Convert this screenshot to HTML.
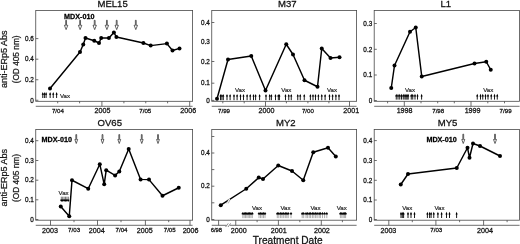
<!DOCTYPE html>
<html><head><meta charset="utf-8"><title>anti-ERp5 antibody responses</title>
<style>
html,body{margin:0;padding:0;background:#fff;}
body{width:520px;height:244px;overflow:hidden;}
svg{display:block;font-family:"Liberation Sans", sans-serif;filter:blur(0.35px);}
</style></head>
<body>
<svg width="520" height="244" viewBox="0 0 520 244">
<rect width="520" height="244" fill="#fff"/>
<rect x="35.75" y="10.4" width="156.85" height="90.90" fill="none" stroke="#484848" stroke-width="0.8"/>
<rect x="35.75" y="129.4" width="156.85" height="90.80" fill="none" stroke="#484848" stroke-width="0.8"/>
<line x1="35.75" y1="106.3" x2="192.6" y2="106.3" stroke="#484848" stroke-width="0.8" />
<line x1="35.75" y1="225.3" x2="192.6" y2="225.3" stroke="#484848" stroke-width="0.8" />
<rect x="211.75" y="10.4" width="144.85" height="90.90" fill="none" stroke="#484848" stroke-width="0.8"/>
<rect x="211.75" y="129.4" width="144.85" height="90.80" fill="none" stroke="#484848" stroke-width="0.8"/>
<line x1="211.75" y1="106.3" x2="356.6" y2="106.3" stroke="#484848" stroke-width="0.8" />
<line x1="211.75" y1="225.3" x2="356.6" y2="225.3" stroke="#484848" stroke-width="0.8" />
<rect x="374.2" y="10.4" width="145.40" height="90.90" fill="none" stroke="#484848" stroke-width="0.8"/>
<rect x="374.2" y="129.4" width="145.40" height="90.80" fill="none" stroke="#484848" stroke-width="0.8"/>
<line x1="374.2" y1="106.3" x2="519.6" y2="106.3" stroke="#484848" stroke-width="0.8" />
<line x1="374.2" y1="225.3" x2="519.6" y2="225.3" stroke="#484848" stroke-width="0.8" />
<text x="112.6" y="6.8" font-size="9.55" text-anchor="middle" font-weight="normal" fill="#111" stroke="#111" stroke-width="0.26" >MEL15</text>
<text x="287.3" y="6.8" font-size="9.55" text-anchor="middle" font-weight="normal" fill="#111" stroke="#111" stroke-width="0.26" >M37</text>
<text x="445.8" y="6.8" font-size="9.55" text-anchor="middle" font-weight="normal" fill="#111" stroke="#111" stroke-width="0.26" >L1</text>
<text x="109.8" y="125.8" font-size="9.55" text-anchor="middle" font-weight="normal" fill="#111" stroke="#111" stroke-width="0.26" >OV65</text>
<text x="285.8" y="125.8" font-size="9.55" text-anchor="middle" font-weight="normal" fill="#111" stroke="#111" stroke-width="0.26" >MY2</text>
<text x="447.6" y="125.8" font-size="9.55" text-anchor="middle" font-weight="normal" fill="#111" stroke="#111" stroke-width="0.26" >MY5</text>
<text transform="translate(7.3,59.25) rotate(-90)" font-size="8.9" textLength="57.6" lengthAdjust="spacingAndGlyphs" text-anchor="middle" fill="#1a1a1a" stroke="#1a1a1a" stroke-width="0.26">anti-ERp5 Abs</text>
<text transform="translate(18.7,59.4) rotate(-90)" font-size="8.3" text-anchor="middle" fill="#1a1a1a" stroke="#1a1a1a" stroke-width="0.26">(OD 405 nm)</text>
<text transform="translate(7.3,177.75) rotate(-90)" font-size="8.9" textLength="57.6" lengthAdjust="spacingAndGlyphs" text-anchor="middle" fill="#1a1a1a" stroke="#1a1a1a" stroke-width="0.26">anti-ERp5 Abs</text>
<text transform="translate(18.7,178.0) rotate(-90)" font-size="8.3" text-anchor="middle" fill="#1a1a1a" stroke="#1a1a1a" stroke-width="0.26">(OD 405 nm)</text>
<text x="287.7" y="244.0" font-size="10.1" text-anchor="middle" font-weight="normal" fill="#111" stroke="#111" stroke-width="0.26" >Treatment Date</text>
<line x1="35.75" y1="100.25" x2="38.35" y2="100.25" stroke="#484848" stroke-width="0.8" />
<text x="33.75" y="102.5" font-size="6.35" text-anchor="end" font-weight="normal" fill="#111" stroke="#111" stroke-width="0.26" >0</text>
<line x1="35.75" y1="79.75" x2="38.35" y2="79.75" stroke="#484848" stroke-width="0.8" />
<text x="33.75" y="82.0" font-size="6.35" text-anchor="end" font-weight="normal" fill="#111" stroke="#111" stroke-width="0.26" >0.2</text>
<line x1="35.75" y1="59.2" x2="38.35" y2="59.2" stroke="#484848" stroke-width="0.8" />
<text x="33.75" y="61.45" font-size="6.35" text-anchor="end" font-weight="normal" fill="#111" stroke="#111" stroke-width="0.26" >0.4</text>
<line x1="35.75" y1="38.6" x2="38.35" y2="38.6" stroke="#484848" stroke-width="0.8" />
<text x="33.75" y="40.85" font-size="6.35" text-anchor="end" font-weight="normal" fill="#111" stroke="#111" stroke-width="0.26" >0.6</text>
<line x1="57.7" y1="101.3" x2="57.7" y2="103.3" stroke="#484848" stroke-width="0.8" />
<text x="57.9" y="112.5" font-size="6.15" text-anchor="middle" font-weight="normal" fill="#111" stroke="#111" stroke-width="0.26" >7/04</text>
<line x1="79.6" y1="101.3" x2="79.6" y2="103.3" stroke="#484848" stroke-width="0.8" />
<line x1="101.9" y1="101.3" x2="101.9" y2="106.3" stroke="#484848" stroke-width="0.8" />
<text x="102.5" y="113.0" font-size="7.15" text-anchor="middle" font-weight="normal" fill="#111" stroke="#111" stroke-width="0.26" >2005</text>
<line x1="123.9" y1="101.3" x2="123.9" y2="103.3" stroke="#484848" stroke-width="0.8" />
<line x1="145.75" y1="101.3" x2="145.75" y2="103.3" stroke="#484848" stroke-width="0.8" />
<text x="145.3" y="112.5" font-size="6.15" text-anchor="middle" font-weight="normal" fill="#111" stroke="#111" stroke-width="0.26" >7/05</text>
<line x1="167.6" y1="101.3" x2="167.6" y2="103.3" stroke="#484848" stroke-width="0.8" />
<line x1="189.7" y1="101.3" x2="189.7" y2="106.3" stroke="#484848" stroke-width="0.8" />
<text x="188.3" y="113.0" font-size="7.15" text-anchor="middle" font-weight="normal" fill="#111" stroke="#111" stroke-width="0.26" >2006</text>
<polyline points="50,88.5 80,52 83.25,44.5 85.5,38 94.25,40.75 99,43 101.2,38 108.9,38 113.9,32.5 116.4,37 143.4,43 150.7,45.6 166.9,43.6 172.5,50.5 179.5,48.4" fill="none" stroke="#000" stroke-width="1.45" stroke-linejoin="round"/>
<circle cx="50" cy="88.5" r="2.0" fill="#000"/>
<circle cx="80" cy="52" r="2.0" fill="#000"/>
<circle cx="83.25" cy="44.5" r="2.0" fill="#000"/>
<circle cx="85.5" cy="38" r="2.0" fill="#000"/>
<circle cx="94.25" cy="40.75" r="2.0" fill="#000"/>
<circle cx="99" cy="43" r="2.0" fill="#000"/>
<circle cx="101.2" cy="38" r="2.0" fill="#000"/>
<circle cx="108.9" cy="38" r="2.0" fill="#000"/>
<circle cx="113.9" cy="32.5" r="2.0" fill="#000"/>
<circle cx="116.4" cy="37" r="2.0" fill="#000"/>
<circle cx="143.4" cy="43" r="2.0" fill="#000"/>
<circle cx="150.7" cy="45.6" r="2.0" fill="#000"/>
<circle cx="166.9" cy="43.6" r="2.0" fill="#000"/>
<circle cx="172.5" cy="50.5" r="2.0" fill="#000"/>
<circle cx="179.5" cy="48.4" r="2.0" fill="#000"/>
<path d="M65.67999999999999,20.3 L66.52,20.3 L66.52,25.3 L67.8,25.3 L66.1,29.6 L64.39999999999999,25.3 L65.67999999999999,25.3 Z" fill="#fff" stroke="#222" stroke-width="0.7" stroke-linejoin="miter"/>
<path d="M79.67999999999999,20.3 L80.52,20.3 L80.52,25.3 L81.8,25.3 L80.1,29.6 L78.39999999999999,25.3 L79.67999999999999,25.3 Z" fill="#fff" stroke="#222" stroke-width="0.7" stroke-linejoin="miter"/>
<path d="M94.28,20.3 L95.12,20.3 L95.12,25.3 L96.4,25.3 L94.7,29.6 L93.0,25.3 L94.28,25.3 Z" fill="#fff" stroke="#222" stroke-width="0.7" stroke-linejoin="miter"/>
<path d="M106.48,20.3 L107.32000000000001,20.3 L107.32000000000001,25.3 L108.60000000000001,25.3 L106.9,29.6 L105.2,25.3 L106.48,25.3 Z" fill="#fff" stroke="#222" stroke-width="0.7" stroke-linejoin="miter"/>
<path d="M116.28,20.3 L117.12,20.3 L117.12,25.3 L118.4,25.3 L116.7,29.6 L115.0,25.3 L116.28,25.3 Z" fill="#fff" stroke="#222" stroke-width="0.7" stroke-linejoin="miter"/>
<path d="M135.38000000000002,20.3 L136.22,20.3 L136.22,25.3 L137.5,25.3 L135.8,29.6 L134.10000000000002,25.3 L135.38000000000002,25.3 Z" fill="#fff" stroke="#222" stroke-width="0.7" stroke-linejoin="miter"/>
<text x="64.1" y="19.35" font-size="7.2" text-anchor="start" font-weight="bold" fill="#000" stroke="#000" stroke-width="0.26" >MDX-010</text>
<path d="M41.7,94.7 L42.75,92.1 L43.8,94.7 Z" fill="#000"/>
<line x1="42.75" y1="93.5" x2="42.75" y2="98.0" stroke="#000" stroke-width="0.9" />
<path d="M43.35,94.7 L44.4,92.1 L45.449999999999996,94.7 Z" fill="#000"/>
<line x1="44.4" y1="93.5" x2="44.4" y2="98.0" stroke="#000" stroke-width="0.9" />
<path d="M45.050000000000004,94.7 L46.1,92.1 L47.15,94.7 Z" fill="#000"/>
<line x1="46.1" y1="93.5" x2="46.1" y2="98.0" stroke="#000" stroke-width="0.9" />
<path d="M49.1,94.7 L50.15,92.1 L51.199999999999996,94.7 Z" fill="#000"/>
<line x1="50.15" y1="93.5" x2="50.15" y2="98.0" stroke="#000" stroke-width="0.9" />
<path d="M52.2,94.7 L53.25,92.1 L54.3,94.7 Z" fill="#000"/>
<line x1="53.25" y1="93.5" x2="53.25" y2="98.0" stroke="#000" stroke-width="0.9" />
<path d="M55.550000000000004,94.7 L56.6,92.1 L57.65,94.7 Z" fill="#000"/>
<line x1="56.6" y1="93.5" x2="56.6" y2="98.0" stroke="#000" stroke-width="0.9" />
<text x="60.0" y="97.8" font-size="6.1" text-anchor="start" font-weight="normal" fill="#222" stroke="#222" stroke-width="0.18" >Vax</text>
<line x1="211.75" y1="100.4" x2="214.35" y2="100.4" stroke="#484848" stroke-width="0.8" />
<text x="209.75" y="102.65" font-size="6.35" text-anchor="end" font-weight="normal" fill="#111" stroke="#111" stroke-width="0.26" >0</text>
<line x1="211.75" y1="83.2" x2="214.35" y2="83.2" stroke="#484848" stroke-width="0.8" />
<text x="209.75" y="85.45" font-size="6.35" text-anchor="end" font-weight="normal" fill="#111" stroke="#111" stroke-width="0.26" >0.1</text>
<line x1="211.75" y1="61.5" x2="214.35" y2="61.5" stroke="#484848" stroke-width="0.8" />
<text x="209.75" y="63.75" font-size="6.35" text-anchor="end" font-weight="normal" fill="#111" stroke="#111" stroke-width="0.26" >0.2</text>
<line x1="211.75" y1="22.5" x2="214.35" y2="22.5" stroke="#484848" stroke-width="0.8" />
<text x="209.75" y="24.75" font-size="6.35" text-anchor="end" font-weight="normal" fill="#111" stroke="#111" stroke-width="0.26" >0.4</text>
<text x="209.75" y="44.25" font-size="6.35" text-anchor="end" font-weight="normal" fill="#111" stroke="#111" stroke-width="0.26" >0.3</text>
<line x1="222.8" y1="101.3" x2="222.8" y2="103.3" stroke="#484848" stroke-width="0.8" />
<text x="224.0" y="112.5" font-size="6.15" text-anchor="middle" font-weight="normal" fill="#111" stroke="#111" stroke-width="0.26" >7/99</text>
<line x1="244.2" y1="101.3" x2="244.2" y2="103.3" stroke="#484848" stroke-width="0.8" />
<line x1="265.5" y1="101.3" x2="265.5" y2="106.3" stroke="#484848" stroke-width="0.8" />
<text x="266.5" y="113.0" font-size="7.15" text-anchor="middle" font-weight="normal" fill="#111" stroke="#111" stroke-width="0.26" >2000</text>
<line x1="286.4" y1="101.3" x2="286.4" y2="103.3" stroke="#484848" stroke-width="0.8" />
<line x1="307.9" y1="101.3" x2="307.9" y2="103.3" stroke="#484848" stroke-width="0.8" />
<text x="307.9" y="112.5" font-size="6.15" text-anchor="middle" font-weight="normal" fill="#111" stroke="#111" stroke-width="0.26" >7/00</text>
<line x1="328.9" y1="101.3" x2="328.9" y2="103.3" stroke="#484848" stroke-width="0.8" />
<line x1="349.5" y1="101.3" x2="349.5" y2="106.3" stroke="#484848" stroke-width="0.8" />
<text x="351.2" y="113.0" font-size="7.15" text-anchor="middle" font-weight="normal" fill="#111" stroke="#111" stroke-width="0.26" >2001</text>
<polyline points="217,98.8 228,59.5 251.25,56 265.5,90.5 286.25,44.25 293,54.5 304.5,80.25 317.5,86.75 321.75,48.5 330.5,58 339.5,57.25" fill="none" stroke="#000" stroke-width="1.45" stroke-linejoin="round"/>
<circle cx="217" cy="98.8" r="2.0" fill="#000"/>
<circle cx="228" cy="59.5" r="2.0" fill="#000"/>
<circle cx="251.25" cy="56" r="2.0" fill="#000"/>
<circle cx="265.5" cy="90.5" r="2.0" fill="#000"/>
<circle cx="286.25" cy="44.25" r="2.0" fill="#000"/>
<circle cx="293" cy="54.5" r="2.0" fill="#000"/>
<circle cx="304.5" cy="80.25" r="2.0" fill="#000"/>
<circle cx="317.5" cy="86.75" r="2.0" fill="#000"/>
<circle cx="321.75" cy="48.5" r="2.0" fill="#000"/>
<circle cx="330.5" cy="58" r="2.0" fill="#000"/>
<circle cx="339.5" cy="57.25" r="2.0" fill="#000"/>
<path d="M219.45,96.5 L220.5,93.89999999999999 L221.55,96.5 Z" fill="#000"/>
<line x1="220.5" y1="95.3" x2="220.5" y2="100.2" stroke="#000" stroke-width="0.9" />
<path d="M220.85,96.5 L221.9,93.89999999999999 L222.95000000000002,96.5 Z" fill="#000"/>
<line x1="221.9" y1="95.3" x2="221.9" y2="100.2" stroke="#000" stroke-width="0.9" />
<path d="M222.25,96.5 L223.3,93.89999999999999 L224.35000000000002,96.5 Z" fill="#000"/>
<line x1="223.3" y1="95.3" x2="223.3" y2="100.2" stroke="#000" stroke-width="0.9" />
<path d="M225.95,96.5 L227,93.89999999999999 L228.05,96.5 Z" fill="#000"/>
<line x1="227" y1="95.3" x2="227" y2="100.2" stroke="#000" stroke-width="0.9" />
<path d="M229.04999999999998,96.5 L230.1,93.89999999999999 L231.15,96.5 Z" fill="#000"/>
<line x1="230.1" y1="95.3" x2="230.1" y2="100.2" stroke="#000" stroke-width="0.9" />
<path d="M232.95,96.5 L234,93.89999999999999 L235.05,96.5 Z" fill="#000"/>
<line x1="234" y1="95.3" x2="234" y2="100.2" stroke="#000" stroke-width="0.9" />
<path d="M236.04999999999998,96.5 L237.1,93.89999999999999 L238.15,96.5 Z" fill="#000"/>
<line x1="237.1" y1="95.3" x2="237.1" y2="100.2" stroke="#000" stroke-width="0.9" />
<path d="M239.45,96.5 L240.5,93.89999999999999 L241.55,96.5 Z" fill="#000"/>
<line x1="240.5" y1="95.3" x2="240.5" y2="100.2" stroke="#000" stroke-width="0.9" />
<path d="M242.45,96.5 L243.5,93.89999999999999 L244.55,96.5 Z" fill="#000"/>
<line x1="243.5" y1="95.3" x2="243.5" y2="100.2" stroke="#000" stroke-width="0.9" />
<path d="M246.04999999999998,96.5 L247.1,93.89999999999999 L248.15,96.5 Z" fill="#000"/>
<line x1="247.1" y1="95.3" x2="247.1" y2="100.2" stroke="#000" stroke-width="0.9" />
<path d="M249.2,96.5 L250.25,93.89999999999999 L251.3,96.5 Z" fill="#000"/>
<line x1="250.25" y1="95.3" x2="250.25" y2="100.2" stroke="#000" stroke-width="0.9" />
<path d="M252.45,96.5 L253.5,93.89999999999999 L254.55,96.5 Z" fill="#000"/>
<line x1="253.5" y1="95.3" x2="253.5" y2="100.2" stroke="#000" stroke-width="0.9" />
<path d="M254.54999999999998,96.5 L255.6,93.89999999999999 L256.65,96.5 Z" fill="#000"/>
<line x1="255.6" y1="95.3" x2="255.6" y2="100.2" stroke="#000" stroke-width="0.9" />
<path d="M258.55,96.5 L259.6,93.89999999999999 L260.65000000000003,96.5 Z" fill="#000"/>
<line x1="259.6" y1="95.3" x2="259.6" y2="100.2" stroke="#000" stroke-width="0.9" />
<path d="M264.95,96.5 L266,93.89999999999999 L267.05,96.5 Z" fill="#000"/>
<line x1="266" y1="95.3" x2="266" y2="100.2" stroke="#000" stroke-width="0.9" />
<path d="M268.65,96.5 L269.7,93.89999999999999 L270.75,96.5 Z" fill="#000"/>
<line x1="269.7" y1="95.3" x2="269.7" y2="100.2" stroke="#000" stroke-width="0.9" />
<path d="M270.34999999999997,96.5 L271.4,93.89999999999999 L272.45,96.5 Z" fill="#000"/>
<line x1="271.4" y1="95.3" x2="271.4" y2="100.2" stroke="#000" stroke-width="0.9" />
<path d="M274.45,96.5 L275.5,93.89999999999999 L276.55,96.5 Z" fill="#000"/>
<line x1="275.5" y1="95.3" x2="275.5" y2="100.2" stroke="#000" stroke-width="0.9" />
<path d="M277.25,96.5 L278.3,93.89999999999999 L279.35,96.5 Z" fill="#000"/>
<line x1="278.3" y1="95.3" x2="278.3" y2="100.2" stroke="#000" stroke-width="0.9" />
<path d="M278.34999999999997,96.5 L279.4,93.89999999999999 L280.45,96.5 Z" fill="#000"/>
<line x1="279.4" y1="95.3" x2="279.4" y2="100.2" stroke="#000" stroke-width="0.9" />
<path d="M284.45,96.5 L285.5,93.89999999999999 L286.55,96.5 Z" fill="#000"/>
<line x1="285.5" y1="95.3" x2="285.5" y2="100.2" stroke="#000" stroke-width="0.9" />
<path d="M287.7,96.5 L288.75,93.89999999999999 L289.8,96.5 Z" fill="#000"/>
<line x1="288.75" y1="95.3" x2="288.75" y2="100.2" stroke="#000" stroke-width="0.9" />
<path d="M290.2,96.5 L291.25,93.89999999999999 L292.3,96.5 Z" fill="#000"/>
<line x1="291.25" y1="95.3" x2="291.25" y2="100.2" stroke="#000" stroke-width="0.9" />
<path d="M296.7,96.5 L297.75,93.89999999999999 L298.8,96.5 Z" fill="#000"/>
<line x1="297.75" y1="95.3" x2="297.75" y2="100.2" stroke="#000" stroke-width="0.9" />
<path d="M299.2,96.5 L300.25,93.89999999999999 L301.3,96.5 Z" fill="#000"/>
<line x1="300.25" y1="95.3" x2="300.25" y2="100.2" stroke="#000" stroke-width="0.9" />
<path d="M303.2,96.5 L304.25,93.89999999999999 L305.3,96.5 Z" fill="#000"/>
<line x1="304.25" y1="95.3" x2="304.25" y2="100.2" stroke="#000" stroke-width="0.9" />
<path d="M309.34999999999997,96.5 L310.4,93.89999999999999 L311.45,96.5 Z" fill="#000"/>
<line x1="310.4" y1="95.3" x2="310.4" y2="100.2" stroke="#000" stroke-width="0.9" />
<path d="M311.95,96.5 L313,93.89999999999999 L314.05,96.5 Z" fill="#000"/>
<line x1="313" y1="95.3" x2="313" y2="100.2" stroke="#000" stroke-width="0.9" />
<path d="M314.45,96.5 L315.5,93.89999999999999 L316.55,96.5 Z" fill="#000"/>
<line x1="315.5" y1="95.3" x2="315.5" y2="100.2" stroke="#000" stroke-width="0.9" />
<path d="M317.34999999999997,96.5 L318.4,93.89999999999999 L319.45,96.5 Z" fill="#000"/>
<line x1="318.4" y1="95.3" x2="318.4" y2="100.2" stroke="#000" stroke-width="0.9" />
<path d="M320.7,96.5 L321.75,93.89999999999999 L322.8,96.5 Z" fill="#000"/>
<line x1="321.75" y1="95.3" x2="321.75" y2="100.2" stroke="#000" stroke-width="0.9" />
<path d="M324.05,96.5 L325.1,93.89999999999999 L326.15000000000003,96.5 Z" fill="#000"/>
<line x1="325.1" y1="95.3" x2="325.1" y2="100.2" stroke="#000" stroke-width="0.9" />
<path d="M328.45,96.5 L329.5,93.89999999999999 L330.55,96.5 Z" fill="#000"/>
<line x1="329.5" y1="95.3" x2="329.5" y2="100.2" stroke="#000" stroke-width="0.9" />
<path d="M331.55,96.5 L332.6,93.89999999999999 L333.65000000000003,96.5 Z" fill="#000"/>
<line x1="332.6" y1="95.3" x2="332.6" y2="100.2" stroke="#000" stroke-width="0.9" />
<path d="M334.84999999999997,96.5 L335.9,93.89999999999999 L336.95,96.5 Z" fill="#000"/>
<line x1="335.9" y1="95.3" x2="335.9" y2="100.2" stroke="#000" stroke-width="0.9" />
<path d="M337.95,96.5 L339,93.89999999999999 L340.05,96.5 Z" fill="#000"/>
<line x1="339" y1="95.3" x2="339" y2="100.2" stroke="#000" stroke-width="0.9" />
<text x="240" y="91.6" font-size="6.1" text-anchor="middle" font-weight="normal" fill="#222" stroke="#222" stroke-width="0.18" >Vax</text>
<text x="286.3" y="91.6" font-size="6.1" text-anchor="middle" font-weight="normal" fill="#222" stroke="#222" stroke-width="0.18" >Vax</text>
<text x="332" y="91.6" font-size="6.1" text-anchor="middle" font-weight="normal" fill="#222" stroke="#222" stroke-width="0.18" >Vax</text>
<line x1="374.2" y1="100.5" x2="376.8" y2="100.5" stroke="#484848" stroke-width="0.8" />
<text x="372.2" y="102.75" font-size="6.35" text-anchor="end" font-weight="normal" fill="#111" stroke="#111" stroke-width="0.26" >0</text>
<line x1="374.2" y1="75.0" x2="376.8" y2="75.0" stroke="#484848" stroke-width="0.8" />
<text x="372.2" y="77.25" font-size="6.35" text-anchor="end" font-weight="normal" fill="#111" stroke="#111" stroke-width="0.26" >0.1</text>
<line x1="374.2" y1="49.3" x2="376.8" y2="49.3" stroke="#484848" stroke-width="0.8" />
<text x="372.2" y="51.55" font-size="6.35" text-anchor="end" font-weight="normal" fill="#111" stroke="#111" stroke-width="0.26" >0.2</text>
<line x1="374.2" y1="23.5" x2="376.8" y2="23.5" stroke="#484848" stroke-width="0.8" />
<text x="372.2" y="25.75" font-size="6.35" text-anchor="end" font-weight="normal" fill="#111" stroke="#111" stroke-width="0.26" >0.3</text>
<line x1="387.6" y1="101.3" x2="387.6" y2="103.3" stroke="#484848" stroke-width="0.8" />
<line x1="404.3" y1="101.3" x2="404.3" y2="106.3" stroke="#484848" stroke-width="0.8" />
<text x="404.6" y="113.0" font-size="7.15" text-anchor="middle" font-weight="normal" fill="#111" stroke="#111" stroke-width="0.26" >1998</text>
<line x1="421.0" y1="101.3" x2="421.0" y2="103.3" stroke="#484848" stroke-width="0.8" />
<line x1="437.7" y1="101.3" x2="437.7" y2="103.3" stroke="#484848" stroke-width="0.8" />
<text x="438.2" y="112.5" font-size="6.15" text-anchor="middle" font-weight="normal" fill="#111" stroke="#111" stroke-width="0.26" >7/98</text>
<line x1="454.3" y1="101.3" x2="454.3" y2="103.3" stroke="#484848" stroke-width="0.8" />
<line x1="471.0" y1="101.3" x2="471.0" y2="106.3" stroke="#484848" stroke-width="0.8" />
<text x="472.6" y="113.0" font-size="7.15" text-anchor="middle" font-weight="normal" fill="#111" stroke="#111" stroke-width="0.26" >1999</text>
<line x1="487.8" y1="101.3" x2="487.8" y2="103.3" stroke="#484848" stroke-width="0.8" />
<line x1="504.5" y1="101.3" x2="504.5" y2="103.3" stroke="#484848" stroke-width="0.8" />
<text x="505.6" y="112.5" font-size="6.15" text-anchor="middle" font-weight="normal" fill="#111" stroke="#111" stroke-width="0.26" >7/99</text>
<polyline points="391.25,88 394.5,65.5 410,31.75 415.75,27.5 421.75,76.5 474.5,63.5 486.25,61.75 490.75,69.75" fill="none" stroke="#000" stroke-width="1.45" stroke-linejoin="round"/>
<circle cx="391.25" cy="88" r="2.0" fill="#000"/>
<circle cx="394.5" cy="65.5" r="2.0" fill="#000"/>
<circle cx="410" cy="31.75" r="2.0" fill="#000"/>
<circle cx="415.75" cy="27.5" r="2.0" fill="#000"/>
<circle cx="421.75" cy="76.5" r="2.0" fill="#000"/>
<circle cx="474.5" cy="63.5" r="2.0" fill="#000"/>
<circle cx="486.25" cy="61.75" r="2.0" fill="#000"/>
<circle cx="490.75" cy="69.75" r="2.0" fill="#000"/>
<path d="M395.2,96.4 L396.25,93.8 L397.3,96.4 Z" fill="#000"/>
<line x1="396.25" y1="95.2" x2="396.25" y2="99.6" stroke="#000" stroke-width="0.9" />
<path d="M396.95,96.4 L398,93.8 L399.05,96.4 Z" fill="#000"/>
<line x1="398" y1="95.2" x2="398" y2="99.6" stroke="#000" stroke-width="0.9" />
<path d="M398.7,96.4 L399.75,93.8 L400.8,96.4 Z" fill="#000"/>
<line x1="399.75" y1="95.2" x2="399.75" y2="99.6" stroke="#000" stroke-width="0.9" />
<path d="M400.45,96.4 L401.5,93.8 L402.55,96.4 Z" fill="#000"/>
<line x1="401.5" y1="95.2" x2="401.5" y2="99.6" stroke="#000" stroke-width="0.9" />
<path d="M402.2,96.4 L403.25,93.8 L404.3,96.4 Z" fill="#000"/>
<line x1="403.25" y1="95.2" x2="403.25" y2="99.6" stroke="#000" stroke-width="0.9" />
<path d="M403.84999999999997,96.4 L404.9,93.8 L405.95,96.4 Z" fill="#000"/>
<line x1="404.9" y1="95.2" x2="404.9" y2="99.6" stroke="#000" stroke-width="0.9" />
<path d="M404.95,96.4 L406,93.8 L407.05,96.4 Z" fill="#000"/>
<line x1="406" y1="95.2" x2="406" y2="99.6" stroke="#000" stroke-width="0.9" />
<path d="M406.05,96.4 L407.1,93.8 L408.15000000000003,96.4 Z" fill="#000"/>
<line x1="407.1" y1="95.2" x2="407.1" y2="99.6" stroke="#000" stroke-width="0.9" />
<path d="M407.15,96.4 L408.2,93.8 L409.25,96.4 Z" fill="#000"/>
<line x1="408.2" y1="95.2" x2="408.2" y2="99.6" stroke="#000" stroke-width="0.9" />
<path d="M410.2,96.4 L411.25,93.8 L412.3,96.4 Z" fill="#000"/>
<line x1="411.25" y1="95.2" x2="411.25" y2="99.6" stroke="#000" stroke-width="0.9" />
<path d="M411.7,96.4 L412.75,93.8 L413.8,96.4 Z" fill="#000"/>
<line x1="412.75" y1="95.2" x2="412.75" y2="99.6" stroke="#000" stroke-width="0.9" />
<path d="M413.95,96.4 L415,93.8 L416.05,96.4 Z" fill="#000"/>
<line x1="415" y1="95.2" x2="415" y2="99.6" stroke="#000" stroke-width="0.9" />
<path d="M416.45,96.4 L417.5,93.8 L418.55,96.4 Z" fill="#000"/>
<line x1="417.5" y1="95.2" x2="417.5" y2="99.6" stroke="#000" stroke-width="0.9" />
<path d="M420.55,96.4 L421.6,93.8 L422.65000000000003,96.4 Z" fill="#000"/>
<line x1="421.6" y1="95.2" x2="421.6" y2="99.6" stroke="#000" stroke-width="0.9" />
<path d="M476.2,96.4 L477.25,93.8 L478.3,96.4 Z" fill="#000"/>
<line x1="477.25" y1="95.2" x2="477.25" y2="99.6" stroke="#000" stroke-width="0.9" />
<path d="M479.45,96.4 L480.5,93.8 L481.55,96.4 Z" fill="#000"/>
<line x1="480.5" y1="95.2" x2="480.5" y2="99.6" stroke="#000" stroke-width="0.9" />
<path d="M481.7,96.4 L482.75,93.8 L483.8,96.4 Z" fill="#000"/>
<line x1="482.75" y1="95.2" x2="482.75" y2="99.6" stroke="#000" stroke-width="0.9" />
<path d="M484.45,96.4 L485.5,93.8 L486.55,96.4 Z" fill="#000"/>
<line x1="485.5" y1="95.2" x2="485.5" y2="99.6" stroke="#000" stroke-width="0.9" />
<path d="M486.95,96.4 L488,93.8 L489.05,96.4 Z" fill="#000"/>
<line x1="488" y1="95.2" x2="488" y2="99.6" stroke="#000" stroke-width="0.9" />
<path d="M490.2,96.4 L491.25,93.8 L492.3,96.4 Z" fill="#000"/>
<line x1="491.25" y1="95.2" x2="491.25" y2="99.6" stroke="#000" stroke-width="0.9" />
<path d="M493.45,96.4 L494.5,93.8 L495.55,96.4 Z" fill="#000"/>
<line x1="494.5" y1="95.2" x2="494.5" y2="99.6" stroke="#000" stroke-width="0.9" />
<path d="M496.2,96.4 L497.25,93.8 L498.3,96.4 Z" fill="#000"/>
<line x1="497.25" y1="95.2" x2="497.25" y2="99.6" stroke="#000" stroke-width="0.9" />
<text x="410" y="91.6" font-size="6.1" text-anchor="middle" font-weight="normal" fill="#222" stroke="#222" stroke-width="0.18" >Vax</text>
<text x="488.25" y="91.6" font-size="6.1" text-anchor="middle" font-weight="normal" fill="#222" stroke="#222" stroke-width="0.18" >Vax</text>
<line x1="35.75" y1="219.5" x2="38.35" y2="219.5" stroke="#484848" stroke-width="0.8" />
<text x="33.75" y="221.75" font-size="6.35" text-anchor="end" font-weight="normal" fill="#111" stroke="#111" stroke-width="0.26" >0</text>
<line x1="35.75" y1="199.8" x2="38.35" y2="199.8" stroke="#484848" stroke-width="0.8" />
<text x="33.75" y="202.05" font-size="6.35" text-anchor="end" font-weight="normal" fill="#111" stroke="#111" stroke-width="0.26" >0.1</text>
<line x1="35.75" y1="180.2" x2="38.35" y2="180.2" stroke="#484848" stroke-width="0.8" />
<text x="33.75" y="182.45" font-size="6.35" text-anchor="end" font-weight="normal" fill="#111" stroke="#111" stroke-width="0.26" >0.2</text>
<line x1="35.75" y1="160.5" x2="38.35" y2="160.5" stroke="#484848" stroke-width="0.8" />
<text x="33.75" y="162.75" font-size="6.35" text-anchor="end" font-weight="normal" fill="#111" stroke="#111" stroke-width="0.26" >0.3</text>
<line x1="35.75" y1="140.7" x2="38.35" y2="140.7" stroke="#484848" stroke-width="0.8" />
<text x="33.75" y="142.95" font-size="6.35" text-anchor="end" font-weight="normal" fill="#111" stroke="#111" stroke-width="0.26" >0.4</text>
<line x1="50.5" y1="220.2" x2="50.5" y2="225.3" stroke="#484848" stroke-width="0.8" />
<text x="50.0" y="232.65" font-size="7.15" text-anchor="middle" font-weight="normal" fill="#111" stroke="#111" stroke-width="0.26" >2003</text>
<line x1="74.0" y1="220.2" x2="74.0" y2="222.2" stroke="#484848" stroke-width="0.8" />
<text x="74.1" y="232.2" font-size="6.15" text-anchor="middle" font-weight="normal" fill="#111" stroke="#111" stroke-width="0.26" >7/03</text>
<line x1="97.5" y1="220.2" x2="97.5" y2="225.3" stroke="#484848" stroke-width="0.8" />
<text x="96.8" y="232.65" font-size="7.15" text-anchor="middle" font-weight="normal" fill="#111" stroke="#111" stroke-width="0.26" >2004</text>
<line x1="121.0" y1="220.2" x2="121.0" y2="222.2" stroke="#484848" stroke-width="0.8" />
<text x="121.5" y="232.2" font-size="6.15" text-anchor="middle" font-weight="normal" fill="#111" stroke="#111" stroke-width="0.26" >7/04</text>
<line x1="145.4" y1="220.2" x2="145.4" y2="225.3" stroke="#484848" stroke-width="0.8" />
<text x="144.8" y="232.65" font-size="7.15" text-anchor="middle" font-weight="normal" fill="#111" stroke="#111" stroke-width="0.26" >2005</text>
<line x1="168.7" y1="220.2" x2="168.7" y2="222.2" stroke="#484848" stroke-width="0.8" />
<text x="169.7" y="232.2" font-size="6.15" text-anchor="middle" font-weight="normal" fill="#111" stroke="#111" stroke-width="0.26" >7/05</text>
<line x1="190" y1="220.2" x2="190" y2="225.3" stroke="#484848" stroke-width="0.8" />
<text x="190.6" y="232.65" font-size="7.15" text-anchor="middle" font-weight="normal" fill="#111" stroke="#111" stroke-width="0.26" >2006</text>
<polyline points="60.75,206.5 69.25,216.25 72,180.25 88.2,188.7 99.8,164.2 104.2,184.3 106.2,170.2 115.1,175.4 119.3,171.5 128.7,149 140.6,179.4 149,179.6 162.5,195.75 178.75,187.75" fill="none" stroke="#000" stroke-width="1.45" stroke-linejoin="round"/>
<circle cx="60.75" cy="206.5" r="2.0" fill="#000"/>
<circle cx="69.25" cy="216.25" r="2.0" fill="#000"/>
<circle cx="72" cy="180.25" r="2.0" fill="#000"/>
<circle cx="88.2" cy="188.7" r="2.0" fill="#000"/>
<circle cx="99.8" cy="164.2" r="2.0" fill="#000"/>
<circle cx="104.2" cy="184.3" r="2.0" fill="#000"/>
<circle cx="106.2" cy="170.2" r="2.0" fill="#000"/>
<circle cx="115.1" cy="175.4" r="2.0" fill="#000"/>
<circle cx="119.3" cy="171.5" r="2.0" fill="#000"/>
<circle cx="128.7" cy="149" r="2.0" fill="#000"/>
<circle cx="140.6" cy="179.4" r="2.0" fill="#000"/>
<circle cx="149" cy="179.6" r="2.0" fill="#000"/>
<circle cx="162.5" cy="195.75" r="2.0" fill="#000"/>
<circle cx="178.75" cy="187.75" r="2.0" fill="#000"/>
<path d="M75.83,134.6 L76.67,134.6 L76.67,139.5 L77.65,139.5 L76.25,143.5 L74.85,139.5 L75.83,139.5 Z" fill="#fff" stroke="#222" stroke-width="0.7" stroke-linejoin="miter"/>
<path d="M102.08,134.6 L102.92,134.6 L102.92,139.5 L103.9,139.5 L102.5,143.5 L101.1,139.5 L102.08,139.5 Z" fill="#fff" stroke="#222" stroke-width="0.7" stroke-linejoin="miter"/>
<path d="M118.83,134.6 L119.67,134.6 L119.67,139.5 L120.65,139.5 L119.25,143.5 L117.85,139.5 L118.83,139.5 Z" fill="#fff" stroke="#222" stroke-width="0.7" stroke-linejoin="miter"/>
<path d="M141.33,134.6 L142.17,134.6 L142.17,139.5 L143.15,139.5 L141.75,143.5 L140.35,139.5 L141.33,139.5 Z" fill="#fff" stroke="#222" stroke-width="0.7" stroke-linejoin="miter"/>
<path d="M157.58,134.6 L158.42,134.6 L158.42,139.5 L159.4,139.5 L158,143.5 L156.6,139.5 L157.58,139.5 Z" fill="#fff" stroke="#222" stroke-width="0.7" stroke-linejoin="miter"/>
<text x="41.6" y="142.0" font-size="7.2" text-anchor="start" font-weight="bold" fill="#000" stroke="#000" stroke-width="0.26" >MDX-010</text>
<line x1="61.3" y1="196.7" x2="61.3" y2="200.0" stroke="#4a4a4a" stroke-width="0.75" />
<path d="M60.4,199.4 L62.199999999999996,199.4 L62.199999999999996,200.3 L61.3,202.0 L60.4,200.3 Z" fill="#000"/>
<line x1="62.7" y1="196.7" x2="62.7" y2="200.0" stroke="#4a4a4a" stroke-width="0.75" />
<path d="M61.800000000000004,199.4 L63.6,199.4 L63.6,200.3 L62.7,202.0 L61.800000000000004,200.3 Z" fill="#000"/>
<line x1="64.1" y1="196.7" x2="64.1" y2="200.0" stroke="#4a4a4a" stroke-width="0.75" />
<path d="M63.199999999999996,199.4 L65.0,199.4 L65.0,200.3 L64.1,202.0 L63.199999999999996,200.3 Z" fill="#000"/>
<line x1="65.5" y1="196.7" x2="65.5" y2="200.0" stroke="#4a4a4a" stroke-width="0.75" />
<path d="M64.6,199.4 L66.4,199.4 L66.4,200.3 L65.5,202.0 L64.6,200.3 Z" fill="#000"/>
<line x1="66.9" y1="196.7" x2="66.9" y2="200.0" stroke="#4a4a4a" stroke-width="0.75" />
<path d="M66.0,199.4 L67.80000000000001,199.4 L67.80000000000001,200.3 L66.9,202.0 L66.0,200.3 Z" fill="#000"/>
<line x1="68.3" y1="196.7" x2="68.3" y2="200.0" stroke="#4a4a4a" stroke-width="0.75" />
<path d="M67.39999999999999,199.4 L69.2,199.4 L69.2,200.3 L68.3,202.0 L67.39999999999999,200.3 Z" fill="#000"/>
<text x="63.6" y="194.7" font-size="6.1" text-anchor="middle" font-weight="normal" fill="#222" stroke="#222" stroke-width="0.18" >Vax</text>
<line x1="211.75" y1="219.5" x2="214.35" y2="219.5" stroke="#484848" stroke-width="0.8" />
<text x="209.75" y="221.75" font-size="6.35" text-anchor="end" font-weight="normal" fill="#111" stroke="#111" stroke-width="0.26" >0</text>
<line x1="211.75" y1="202.8" x2="214.35" y2="202.8" stroke="#484848" stroke-width="0.8" />
<line x1="211.75" y1="186.2" x2="214.35" y2="186.2" stroke="#484848" stroke-width="0.8" />
<text x="209.75" y="188.45" font-size="6.35" text-anchor="end" font-weight="normal" fill="#111" stroke="#111" stroke-width="0.26" >0.2</text>
<line x1="211.75" y1="169.6" x2="214.35" y2="169.6" stroke="#484848" stroke-width="0.8" />
<line x1="211.75" y1="153.0" x2="214.35" y2="153.0" stroke="#484848" stroke-width="0.8" />
<text x="209.75" y="155.25" font-size="6.35" text-anchor="end" font-weight="normal" fill="#111" stroke="#111" stroke-width="0.26" >0.4</text>
<line x1="211.75" y1="136.5" x2="214.35" y2="136.5" stroke="#484848" stroke-width="0.8" />
<line x1="235.75" y1="220.2" x2="235.75" y2="225.3" stroke="#484848" stroke-width="0.8" />
<line x1="257.1" y1="220.2" x2="257.1" y2="222.2" stroke="#484848" stroke-width="0.8" />
<line x1="278.4" y1="220.2" x2="278.4" y2="225.3" stroke="#484848" stroke-width="0.8" />
<text x="278.7" y="232.65" font-size="7.15" text-anchor="middle" font-weight="normal" fill="#111" stroke="#111" stroke-width="0.26" >2001</text>
<line x1="299.8" y1="220.2" x2="299.8" y2="222.2" stroke="#484848" stroke-width="0.8" />
<line x1="321.3" y1="220.2" x2="321.3" y2="225.3" stroke="#484848" stroke-width="0.8" />
<text x="321.9" y="232.65" font-size="7.15" text-anchor="middle" font-weight="normal" fill="#111" stroke="#111" stroke-width="0.26" >2002</text>
<line x1="342.4" y1="220.2" x2="342.4" y2="222.2" stroke="#484848" stroke-width="0.8" />
<line x1="218.6" y1="220.2" x2="218.6" y2="225.3" stroke="#484848" stroke-width="0.8" />
<text x="216.4" y="232.25" font-size="5.8" text-anchor="middle" font-weight="normal" fill="#111" stroke="#111" stroke-width="0.26" >6/98</text>
<text x="238.8" y="232.65" font-size="7.15" text-anchor="middle" font-weight="normal" fill="#111" stroke="#111" stroke-width="0.26" >2000</text>
<polyline points="220.75,205.2 246.25,188.75 258.75,177.6 263,179 278.25,165.5 292,171 303.25,180.25 313.25,152.25 328,147.75 335.8,156.4" fill="none" stroke="#000" stroke-width="1.45" stroke-linejoin="round"/>
<circle cx="220.75" cy="205.2" r="2.0" fill="#000"/>
<circle cx="246.25" cy="188.75" r="2.0" fill="#000"/>
<circle cx="258.75" cy="177.6" r="2.0" fill="#000"/>
<circle cx="263" cy="179" r="2.0" fill="#000"/>
<circle cx="278.25" cy="165.5" r="2.0" fill="#000"/>
<circle cx="292" cy="171" r="2.0" fill="#000"/>
<circle cx="303.25" cy="180.25" r="2.0" fill="#000"/>
<circle cx="313.25" cy="152.25" r="2.0" fill="#000"/>
<circle cx="328" cy="147.75" r="2.0" fill="#000"/>
<circle cx="335.8" cy="156.4" r="2.0" fill="#000"/>
<path d="M227.2,203.6 L229.6,198.8" stroke="#fff" stroke-width="1.5" fill="none"/>
<path d="M226.3,203.4 L228.6,198.9 M228.2,203.4 L230.5,198.9" stroke="#555" stroke-width="0.45" fill="none"/>
<rect x="226.3" y="224" width="3.6" height="2.4" fill="#fff"/>
<path d="M225.6,227 L228.2,223.4 M228.0,227 L230.6,223.4" stroke="#3a3a3a" stroke-width="0.6" fill="none"/>
<line x1="242.8" y1="213.5" x2="242.8" y2="218.1" stroke="#666" stroke-width="0.55" />
<path d="M241.75,214.5 L241.75,213.4 L242.80,211.9 L243.85,213.4 L243.85,214.5 Z" fill="#000"/>
<line x1="244.15714285714287" y1="213.5" x2="244.15714285714287" y2="218.1" stroke="#666" stroke-width="0.55" />
<path d="M243.11,214.5 L243.11,213.4 L244.16,211.9 L245.21,213.4 L245.21,214.5 Z" fill="#000"/>
<line x1="245.51428571428573" y1="213.5" x2="245.51428571428573" y2="218.1" stroke="#666" stroke-width="0.55" />
<path d="M244.46,214.5 L244.46,213.4 L245.51,211.9 L246.56,213.4 L246.56,214.5 Z" fill="#000"/>
<line x1="246.8714285714286" y1="213.5" x2="246.8714285714286" y2="218.1" stroke="#666" stroke-width="0.55" />
<path d="M245.82,214.5 L245.82,213.4 L246.87,211.9 L247.92,213.4 L247.92,214.5 Z" fill="#000"/>
<line x1="248.22857142857143" y1="213.5" x2="248.22857142857143" y2="218.1" stroke="#666" stroke-width="0.55" />
<path d="M247.18,214.5 L247.18,213.4 L248.23,211.9 L249.28,213.4 L249.28,214.5 Z" fill="#000"/>
<line x1="249.5857142857143" y1="213.5" x2="249.5857142857143" y2="218.1" stroke="#666" stroke-width="0.55" />
<path d="M248.54,214.5 L248.54,213.4 L249.59,211.9 L250.64,213.4 L250.64,214.5 Z" fill="#000"/>
<line x1="250.94285714285715" y1="213.5" x2="250.94285714285715" y2="218.1" stroke="#666" stroke-width="0.55" />
<path d="M249.89,214.5 L249.89,213.4 L250.94,211.9 L251.99,213.4 L251.99,214.5 Z" fill="#000"/>
<line x1="252.3" y1="213.5" x2="252.3" y2="218.1" stroke="#666" stroke-width="0.55" />
<path d="M251.25,214.5 L251.25,213.4 L252.30,211.9 L253.35,213.4 L253.35,214.5 Z" fill="#000"/>
<line x1="259.0" y1="213.5" x2="259.0" y2="218.1" stroke="#666" stroke-width="0.55" />
<path d="M257.95,214.5 L257.95,213.4 L259.00,211.9 L260.05,213.4 L260.05,214.5 Z" fill="#000"/>
<line x1="260.5" y1="213.5" x2="260.5" y2="218.1" stroke="#666" stroke-width="0.55" />
<path d="M259.45,214.5 L259.45,213.4 L260.50,211.9 L261.55,213.4 L261.55,214.5 Z" fill="#000"/>
<line x1="262.0" y1="213.5" x2="262.0" y2="218.1" stroke="#666" stroke-width="0.55" />
<path d="M260.95,214.5 L260.95,213.4 L262.00,211.9 L263.05,213.4 L263.05,214.5 Z" fill="#000"/>
<line x1="263.5" y1="213.5" x2="263.5" y2="218.1" stroke="#666" stroke-width="0.55" />
<path d="M262.45,214.5 L262.45,213.4 L263.50,211.9 L264.55,213.4 L264.55,214.5 Z" fill="#000"/>
<line x1="265.0" y1="213.5" x2="265.0" y2="218.1" stroke="#666" stroke-width="0.55" />
<path d="M263.95,214.5 L263.95,213.4 L265.00,211.9 L266.05,213.4 L266.05,214.5 Z" fill="#000"/>
<line x1="277.3" y1="213.5" x2="277.3" y2="218.1" stroke="#666" stroke-width="0.55" />
<path d="M276.25,214.5 L276.25,213.4 L277.30,211.9 L278.35,213.4 L278.35,214.5 Z" fill="#000"/>
<line x1="278.8" y1="213.5" x2="278.8" y2="218.1" stroke="#666" stroke-width="0.55" />
<path d="M277.75,214.5 L277.75,213.4 L278.80,211.9 L279.85,213.4 L279.85,214.5 Z" fill="#000"/>
<line x1="280.6" y1="213.5" x2="280.6" y2="218.1" stroke="#666" stroke-width="0.55" />
<path d="M279.55,214.5 L279.55,213.4 L280.60,211.9 L281.65,213.4 L281.65,214.5 Z" fill="#000"/>
<line x1="282.0" y1="213.5" x2="282.0" y2="218.1" stroke="#666" stroke-width="0.55" />
<path d="M280.95,214.5 L280.95,213.4 L282.00,211.9 L283.05,213.4 L283.05,214.5 Z" fill="#000"/>
<line x1="283.7" y1="213.5" x2="283.7" y2="218.1" stroke="#666" stroke-width="0.55" />
<path d="M282.65,214.5 L282.65,213.4 L283.70,211.9 L284.75,213.4 L284.75,214.5 Z" fill="#000"/>
<line x1="285.3" y1="213.5" x2="285.3" y2="218.1" stroke="#666" stroke-width="0.55" />
<path d="M284.25,214.5 L284.25,213.4 L285.30,211.9 L286.35,213.4 L286.35,214.5 Z" fill="#000"/>
<line x1="286.8" y1="213.5" x2="286.8" y2="218.1" stroke="#666" stroke-width="0.55" />
<path d="M285.75,214.5 L285.75,213.4 L286.80,211.9 L287.85,213.4 L287.85,214.5 Z" fill="#000"/>
<line x1="288.2" y1="213.5" x2="288.2" y2="218.1" stroke="#666" stroke-width="0.55" />
<path d="M287.15,214.5 L287.15,213.4 L288.20,211.9 L289.25,213.4 L289.25,214.5 Z" fill="#000"/>
<line x1="291.0" y1="213.5" x2="291.0" y2="218.1" stroke="#666" stroke-width="0.55" />
<path d="M289.95,214.5 L289.95,213.4 L291.00,211.9 L292.05,213.4 L292.05,214.5 Z" fill="#000"/>
<line x1="302.2" y1="213.5" x2="302.2" y2="218.1" stroke="#666" stroke-width="0.55" />
<path d="M301.15,214.5 L301.15,213.4 L302.20,211.9 L303.25,213.4 L303.25,214.5 Z" fill="#000"/>
<line x1="303.7" y1="213.5" x2="303.7" y2="218.1" stroke="#666" stroke-width="0.55" />
<path d="M302.65,214.5 L302.65,213.4 L303.70,211.9 L304.75,213.4 L304.75,214.5 Z" fill="#000"/>
<line x1="306.0" y1="213.5" x2="306.0" y2="218.1" stroke="#666" stroke-width="0.55" />
<path d="M304.95,214.5 L304.95,213.4 L306.00,211.9 L307.05,213.4 L307.05,214.5 Z" fill="#000"/>
<line x1="307.4" y1="213.5" x2="307.4" y2="218.1" stroke="#666" stroke-width="0.55" />
<path d="M306.35,214.5 L306.35,213.4 L307.40,211.9 L308.45,213.4 L308.45,214.5 Z" fill="#000"/>
<line x1="309.2" y1="213.5" x2="309.2" y2="218.1" stroke="#666" stroke-width="0.55" />
<path d="M308.15,214.5 L308.15,213.4 L309.20,211.9 L310.25,213.4 L310.25,214.5 Z" fill="#000"/>
<line x1="310.6" y1="213.5" x2="310.6" y2="218.1" stroke="#666" stroke-width="0.55" />
<path d="M309.55,214.5 L309.55,213.4 L310.60,211.9 L311.65,213.4 L311.65,214.5 Z" fill="#000"/>
<line x1="312.4" y1="213.5" x2="312.4" y2="218.1" stroke="#666" stroke-width="0.55" />
<path d="M311.35,214.5 L311.35,213.4 L312.40,211.9 L313.45,213.4 L313.45,214.5 Z" fill="#000"/>
<line x1="313.9" y1="213.5" x2="313.9" y2="218.1" stroke="#666" stroke-width="0.55" />
<path d="M312.85,214.5 L312.85,213.4 L313.90,211.9 L314.95,213.4 L314.95,214.5 Z" fill="#000"/>
<line x1="315.6" y1="213.5" x2="315.6" y2="218.1" stroke="#666" stroke-width="0.55" />
<path d="M314.55,214.5 L314.55,213.4 L315.60,211.9 L316.65,213.4 L316.65,214.5 Z" fill="#000"/>
<line x1="317.1" y1="213.5" x2="317.1" y2="218.1" stroke="#666" stroke-width="0.55" />
<path d="M316.05,214.5 L316.05,213.4 L317.10,211.9 L318.15,213.4 L318.15,214.5 Z" fill="#000"/>
<line x1="319.1" y1="213.5" x2="319.1" y2="218.1" stroke="#666" stroke-width="0.55" />
<path d="M318.05,214.5 L318.05,213.4 L319.10,211.9 L320.15,213.4 L320.15,214.5 Z" fill="#000"/>
<line x1="320.4" y1="213.5" x2="320.4" y2="218.1" stroke="#666" stroke-width="0.55" />
<path d="M319.35,214.5 L319.35,213.4 L320.40,211.9 L321.45,213.4 L321.45,214.5 Z" fill="#000"/>
<line x1="322.5" y1="213.5" x2="322.5" y2="218.1" stroke="#666" stroke-width="0.55" />
<path d="M321.45,214.5 L321.45,213.4 L322.50,211.9 L323.55,213.4 L323.55,214.5 Z" fill="#000"/>
<line x1="324.6" y1="213.5" x2="324.6" y2="218.1" stroke="#666" stroke-width="0.55" />
<path d="M323.55,214.5 L323.55,213.4 L324.60,211.9 L325.65,213.4 L325.65,214.5 Z" fill="#000"/>
<line x1="326.8" y1="213.5" x2="326.8" y2="218.1" stroke="#666" stroke-width="0.55" />
<path d="M325.75,214.5 L325.75,213.4 L326.80,211.9 L327.85,213.4 L327.85,214.5 Z" fill="#000"/>
<line x1="340.4" y1="213.5" x2="340.4" y2="218.1" stroke="#666" stroke-width="0.55" />
<path d="M339.35,214.5 L339.35,213.4 L340.40,211.9 L341.45,213.4 L341.45,214.5 Z" fill="#000"/>
<line x1="341.8" y1="213.5" x2="341.8" y2="218.1" stroke="#666" stroke-width="0.55" />
<path d="M340.75,214.5 L340.75,213.4 L341.80,211.9 L342.85,213.4 L342.85,214.5 Z" fill="#000"/>
<line x1="343.2" y1="213.5" x2="343.2" y2="218.1" stroke="#666" stroke-width="0.55" />
<path d="M342.15,214.5 L342.15,213.4 L343.20,211.9 L344.25,213.4 L344.25,214.5 Z" fill="#000"/>
<line x1="344.6" y1="213.5" x2="344.6" y2="218.1" stroke="#666" stroke-width="0.55" />
<path d="M343.55,214.5 L343.55,213.4 L344.60,211.9 L345.65,213.4 L345.65,214.5 Z" fill="#000"/>
<line x1="345.6" y1="213.5" x2="345.6" y2="218.1" stroke="#666" stroke-width="0.55" />
<path d="M344.55,214.5 L344.55,213.4 L345.60,211.9 L346.65,213.4 L346.65,214.5 Z" fill="#000"/>
<text x="257" y="209.6" font-size="6.1" text-anchor="middle" font-weight="normal" fill="#222" stroke="#222" stroke-width="0.18" >Vax</text>
<text x="285.5" y="209.6" font-size="6.1" text-anchor="middle" font-weight="normal" fill="#222" stroke="#222" stroke-width="0.18" >Vax</text>
<text x="315.5" y="209.6" font-size="6.1" text-anchor="middle" font-weight="normal" fill="#222" stroke="#222" stroke-width="0.18" >Vax</text>
<text x="341.75" y="209.6" font-size="6.1" text-anchor="middle" font-weight="normal" fill="#222" stroke="#222" stroke-width="0.18" >Vax</text>
<line x1="374.2" y1="219.5" x2="376.8" y2="219.5" stroke="#484848" stroke-width="0.8" />
<text x="372.2" y="221.75" font-size="6.35" text-anchor="end" font-weight="normal" fill="#111" stroke="#111" stroke-width="0.26" >0</text>
<line x1="374.2" y1="200.0" x2="376.8" y2="200.0" stroke="#484848" stroke-width="0.8" />
<text x="372.2" y="202.25" font-size="6.35" text-anchor="end" font-weight="normal" fill="#111" stroke="#111" stroke-width="0.26" >0.1</text>
<line x1="374.2" y1="180.3" x2="376.8" y2="180.3" stroke="#484848" stroke-width="0.8" />
<text x="372.2" y="182.55" font-size="6.35" text-anchor="end" font-weight="normal" fill="#111" stroke="#111" stroke-width="0.26" >0.2</text>
<line x1="374.2" y1="160.5" x2="376.8" y2="160.5" stroke="#484848" stroke-width="0.8" />
<text x="372.2" y="162.75" font-size="6.35" text-anchor="end" font-weight="normal" fill="#111" stroke="#111" stroke-width="0.26" >0.3</text>
<line x1="374.2" y1="140.6" x2="376.8" y2="140.6" stroke="#484848" stroke-width="0.8" />
<text x="372.2" y="142.85" font-size="6.35" text-anchor="end" font-weight="normal" fill="#111" stroke="#111" stroke-width="0.26" >0.4</text>
<line x1="388.8" y1="220.2" x2="388.8" y2="225.3" stroke="#484848" stroke-width="0.8" />
<text x="388.4" y="232.65" font-size="7.15" text-anchor="middle" font-weight="normal" fill="#111" stroke="#111" stroke-width="0.26" >2003</text>
<line x1="412.3" y1="220.2" x2="412.3" y2="222.2" stroke="#484848" stroke-width="0.8" />
<line x1="435.9" y1="220.2" x2="435.9" y2="225.3" stroke="#484848" stroke-width="0.8" />
<text x="436.3" y="232.2" font-size="6.15" text-anchor="middle" font-weight="normal" fill="#111" stroke="#111" stroke-width="0.26" >7/03</text>
<line x1="459.6" y1="220.2" x2="459.6" y2="222.2" stroke="#484848" stroke-width="0.8" />
<line x1="483.6" y1="220.2" x2="483.6" y2="225.3" stroke="#484848" stroke-width="0.8" />
<text x="485.0" y="232.65" font-size="7.15" text-anchor="middle" font-weight="normal" fill="#111" stroke="#111" stroke-width="0.26" >2004</text>
<line x1="507.1" y1="220.2" x2="507.1" y2="222.2" stroke="#484848" stroke-width="0.8" />
<polyline points="400.75,184.5 408,174 456.75,168 467.5,147.75 469.5,157.75 473,143.5 480,146 500,156" fill="none" stroke="#000" stroke-width="1.45" stroke-linejoin="round"/>
<circle cx="400.75" cy="184.5" r="2.0" fill="#000"/>
<circle cx="408" cy="174" r="2.0" fill="#000"/>
<circle cx="456.75" cy="168" r="2.0" fill="#000"/>
<circle cx="467.5" cy="147.75" r="2.0" fill="#000"/>
<circle cx="469.5" cy="157.75" r="2.0" fill="#000"/>
<circle cx="473" cy="143.5" r="2.0" fill="#000"/>
<circle cx="480" cy="146" r="2.0" fill="#000"/>
<circle cx="500" cy="156" r="2.0" fill="#000"/>
<path d="M462.83,134.2 L463.67,134.2 L463.67,139.5 L464.75,139.5 L463.25,143.5 L461.75,139.5 L462.83,139.5 Z" fill="#fff" stroke="#222" stroke-width="0.7" stroke-linejoin="miter"/>
<path d="M494.58,134.2 L495.42,134.2 L495.42,139.5 L496.5,139.5 L495,143.5 L493.5,139.5 L494.58,139.5 Z" fill="#fff" stroke="#222" stroke-width="0.7" stroke-linejoin="miter"/>
<text x="426.4" y="141.9" font-size="7.2" text-anchor="start" font-weight="bold" fill="#000" stroke="#000" stroke-width="0.26" >MDX-010</text>
<path d="M399.95,214.4 L401,211.8 L402.05,214.4 Z" fill="#000"/>
<line x1="401" y1="213.2" x2="401" y2="218.0" stroke="#000" stroke-width="0.9" />
<path d="M401.25,214.4 L402.3,211.8 L403.35,214.4 Z" fill="#000"/>
<line x1="402.3" y1="213.2" x2="402.3" y2="218.0" stroke="#000" stroke-width="0.9" />
<path d="M402.55,214.4 L403.6,211.8 L404.65000000000003,214.4 Z" fill="#000"/>
<line x1="403.6" y1="213.2" x2="403.6" y2="218.0" stroke="#000" stroke-width="0.9" />
<path d="M406.95,214.4 L408,211.8 L409.05,214.4 Z" fill="#000"/>
<line x1="408" y1="213.2" x2="408" y2="218.0" stroke="#000" stroke-width="0.9" />
<path d="M409.95,214.4 L411,211.8 L412.05,214.4 Z" fill="#000"/>
<line x1="411" y1="213.2" x2="411" y2="218.0" stroke="#000" stroke-width="0.9" />
<path d="M413.45,214.4 L414.5,211.8 L415.55,214.4 Z" fill="#000"/>
<line x1="414.5" y1="213.2" x2="414.5" y2="218.0" stroke="#000" stroke-width="0.9" />
<path d="M426.34999999999997,214.4 L427.4,211.8 L428.45,214.4 Z" fill="#000"/>
<line x1="427.4" y1="213.2" x2="427.4" y2="218.0" stroke="#000" stroke-width="0.9" />
<path d="M428.55,214.4 L429.6,211.8 L430.65000000000003,214.4 Z" fill="#000"/>
<line x1="429.6" y1="213.2" x2="429.6" y2="218.0" stroke="#000" stroke-width="0.9" />
<path d="M430.05,214.4 L431.1,211.8 L432.15000000000003,214.4 Z" fill="#000"/>
<line x1="431.1" y1="213.2" x2="431.1" y2="218.0" stroke="#000" stroke-width="0.9" />
<path d="M432.7,214.4 L433.75,211.8 L434.8,214.4 Z" fill="#000"/>
<line x1="433.75" y1="213.2" x2="433.75" y2="218.0" stroke="#000" stroke-width="0.9" />
<path d="M436.84999999999997,214.4 L437.9,211.8 L438.95,214.4 Z" fill="#000"/>
<line x1="437.9" y1="213.2" x2="437.9" y2="218.0" stroke="#000" stroke-width="0.9" />
<path d="M440.55,214.4 L441.6,211.8 L442.65000000000003,214.4 Z" fill="#000"/>
<line x1="441.6" y1="213.2" x2="441.6" y2="218.0" stroke="#000" stroke-width="0.9" />
<path d="M445.45,214.4 L446.5,211.8 L447.55,214.4 Z" fill="#000"/>
<line x1="446.5" y1="213.2" x2="446.5" y2="218.0" stroke="#000" stroke-width="0.9" />
<path d="M448.45,214.4 L449.5,211.8 L450.55,214.4 Z" fill="#000"/>
<line x1="449.5" y1="213.2" x2="449.5" y2="218.0" stroke="#000" stroke-width="0.9" />
<path d="M455.55,214.4 L456.6,211.8 L457.65000000000003,214.4 Z" fill="#000"/>
<line x1="456.6" y1="213.2" x2="456.6" y2="218.0" stroke="#000" stroke-width="0.9" />
<text x="407.25" y="209.6" font-size="6.1" text-anchor="middle" font-weight="normal" fill="#222" stroke="#222" stroke-width="0.18" >Vax</text>
<text x="439.5" y="209.6" font-size="6.1" text-anchor="middle" font-weight="normal" fill="#222" stroke="#222" stroke-width="0.18" >Vax</text>
</svg>
</body></html>
